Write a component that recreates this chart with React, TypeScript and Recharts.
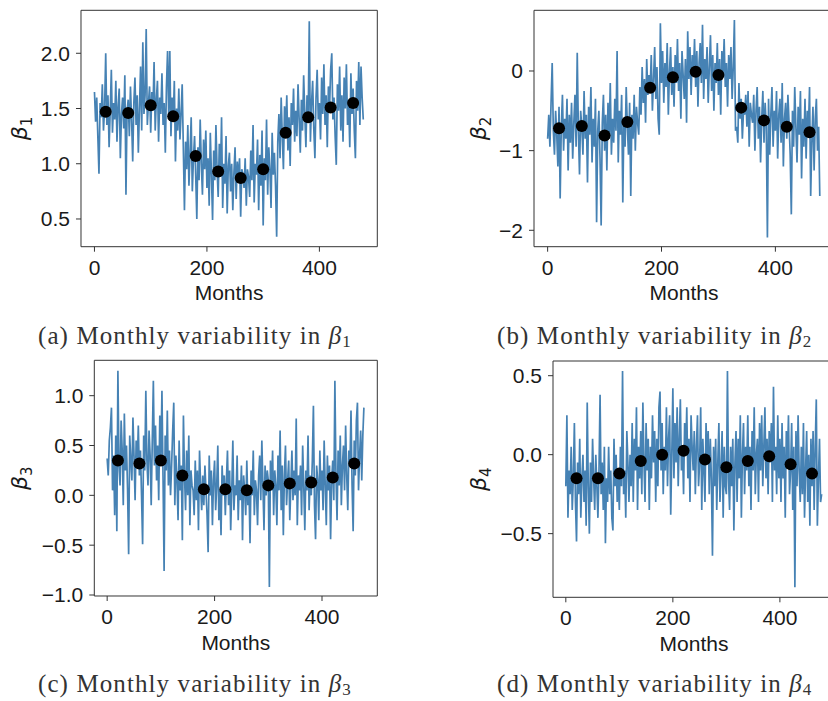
import React from "react"
import { ComposedChart, Line, Scatter, XAxis, YAxis, ReferenceArea } from "recharts"

// one reading every 2 months, months 0..478
const STEP = 2

const beta1 = [
  1.65, 1.38, 1.6, 1.25, 0.91, 1.55, 1.42, 1.72, 1.3, 1.5,
  2.0, 1.35, 1.62, 1.15, 1.48, 1.85, 1.28, 1.55, 1.4, 1.75,
  1.2, 1.52, 1.68, 1.05, 1.45, 1.6, 1.32, 1.8, 0.72, 1.48,
  1.58, 1.25, 1.7, 1.4, 1.02, 1.55, 1.78, 1.35, 1.62, 1.1,
  1.5, 1.88, 1.3, 2.1, 1.45, 1.62, 2.22, 1.35, 1.55, 1.7,
  1.28, 1.65, 1.48, 1.92, 1.3, 1.58, 1.75, 1.2, 1.6, 1.45,
  1.82, 1.35, 1.55, 1.1, 1.7, 2.02, 1.42, 2.02, 1.25, 1.6,
  1.38, 1.75, 1.02, 1.5, 1.3, 1.68, 1.22, 1.45, 1.72, 1.15,
  0.58, 1.2, 0.95, 1.35, 0.8, 1.1, 1.42, 0.75, 1.05, 1.25,
  0.9, 0.5, 1.15, 0.85, 1.4, 1.0, 0.72, 1.22, 0.95, 1.3,
  0.78, 1.05, 0.62, 1.28, 0.9, 0.49, 1.12, 0.85, 1.35, 0.95,
  0.7, 1.18, 0.88, 1.42, 0.6, 1.0, 0.82, 1.25, 0.55, 0.98,
  1.1, 0.75, 1.0, 0.58, 0.92, 1.15, 0.68, 1.02, 0.85, 1.05,
  0.52, 0.95, 0.9, 0.78, 1.05, 0.62, 0.95, 0.88, 0.7, 1.12,
  0.85, 1.35, 0.65, 1.0, 0.9, 1.22, 0.58, 1.08, 0.8, 1.3,
  0.44, 1.05, 0.85, 1.4, 0.72, 1.15, 0.95, 0.6, 1.28, 0.9,
  1.1, 0.8, 0.34, 1.2, 1.45, 1.05, 1.6, 1.25, 0.95, 1.52,
  1.3, 1.62, 1.12, 1.42, 0.98, 1.55, 1.35, 1.68, 1.2, 1.48,
  1.25, 1.72, 1.4, 1.1, 1.58, 1.3, 1.8, 1.45, 1.15, 1.62,
  1.38, 2.29, 1.2, 1.55, 1.75, 1.32, 1.05, 1.6, 1.85, 1.4,
  1.55, 1.22, 1.78, 1.45, 1.9, 1.35, 1.62, 1.15, 1.7, 1.5,
  1.85, 2.0, 1.4, 1.6, 1.25, 0.99, 1.72, 1.48, 1.88, 1.3,
  1.62, 1.2, 1.78, 1.5, 1.9, 1.35, 1.58, 1.15, 1.82, 1.45,
  1.68, 1.3, 1.05, 1.75, 1.48, 1.92, 1.35, 1.88, 1.6, 1.4,
]

const beta2 = [
  -0.85, -0.55, -0.95, -0.4, 0.1, -0.75, -1.05, -0.5, -0.8, -1.2,
  -0.45, -1.6, -0.7, -0.3, -1.0, -0.6, -0.85, -0.35, -1.25, -0.55,
  -0.9, -0.4, -1.1, -0.65, -0.3, -0.95, 0.23, -0.75, -1.3, -0.5,
  -0.7, -1.05, -0.25, -0.85, -0.55, -1.4, -0.45, -0.8, -0.2, -1.15,
  -0.6, -0.95, -0.35, -1.9, -0.75, -0.5, -1.1, -1.94, -0.65, -0.3,
  -1.0, -0.55, -1.25, -0.4, -0.85, -0.15, -1.05, -0.6, -0.9, -0.35,
  -0.75, 0.25, -1.15, -0.5, -0.8, -0.3, -1.65, -0.6, -0.95, -0.2,
  -0.7, -1.05, -0.4, -1.57, -0.55, -0.85, -0.3, -1.0, -0.45, -0.65,
  -0.8, -0.2, -0.55, 0.05, -0.4, -0.1, -0.65, 0.15, -0.3, -0.05,
  -0.25, 0.2, -0.5, -0.1, 0.3, -0.35, 0.05, -0.6, -0.8, 0.6,
  -0.15, 0.25, -0.4, 0.1, -0.2, 0.35, -0.55, 0.0, 0.3, -0.3,
  0.05, -0.45, 0.2, -0.15, 0.4, -0.25, 0.1, -0.6, 0.25, -0.05,
  -0.35, 0.15, -0.65, 0.5, -0.1, 0.3, -0.3, 0.2, -0.05, 0.4,
  -0.2, 0.25, -0.45, 0.1, 0.35, -0.15, 0.58, -0.35, 0.15, -0.1,
  0.3, -0.4, 0.05, 0.45, -0.25, 0.2, -0.5, 0.1, -0.15, 0.35,
  -0.3, 0.15, -0.55, 0.25, -0.05, 0.4, -0.2, 0.1, -0.45, 0.2,
  -0.1, 0.3, -0.35, 0.05, 0.64, -0.75, -0.7, -0.9, -0.15, -0.6,
  -0.35, -0.85, -0.5, -0.55, -0.3, -0.7, -0.25, -0.95, -0.4, -0.55,
  -0.65, -0.3, -1.0, -0.5, -0.2, -0.85, -0.45, -1.15, -0.6, -0.25,
  -0.9, -0.4, -0.7, -2.09, -0.35, -1.05, -0.55, -0.2, -0.95, -0.5,
  -0.75, -0.25, -1.1, -0.55, -0.35, -0.9, -0.15, -1.2, -0.6, -0.4,
  -0.85, -0.3, -0.65, -1.05, -1.8, -0.5, -0.95, -0.2, -0.7, -1.15,
  -0.45, -0.8, -0.25, -1.35, -0.6, -0.95, -0.35, -1.1, -0.5, -0.75,
  -0.2, -1.57, -0.9, -0.45, -1.25, -0.6, -0.35, -1.0, -0.7, -1.57,
]

const beta3 = [
  0.37, 0.2, 0.55, 0.68, 0.88, 0.05, 0.4, -0.2, 0.6, -0.36,
  1.25, 0.3, 0.1, 0.75, 0.45, -0.1, 0.82, 0.25, 0.5, 0.05,
  -0.59, 0.6, 0.35, 0.15, 0.78, 0.4, -0.05, 0.55, 0.3, 0.7,
  0.2, 0.45, 0.0, -0.49, 0.6, 0.25, 1.05, 0.35, 0.1, 0.65,
  0.4, -0.1, 0.55, 1.15, 0.3, 0.7, 0.15, 0.5, -0.05, 0.8,
  0.35, 1.05, 0.2, -0.76, 0.6, 0.25, 0.85, 0.1, 0.45, 0.0,
  0.3, 0.65, 0.93, -0.1, 0.4, 0.15, -0.25, 0.55, 0.05, 0.3,
  -0.45, 0.8, 0.2, -0.15, 0.45, 0.0, 0.6, -0.3, 0.25, 0.1,
  0.05, -0.2, 0.35, -0.05, 0.25, -0.35, 0.45, 0.1, -0.15, 0.2,
  -0.1, 0.3, 0.05, -0.2, -0.57, 0.4, 0.0, 0.25, -0.3, 0.15,
  0.35, -0.15, 0.1, 0.5, -0.25, 0.05, -0.4, 0.3, 0.0, 0.2,
  -0.2, 0.15, 0.45, -0.1, 0.25, -0.35, 0.05, 0.55, -0.15, 0.1,
  0.0, 0.4, -0.25, 0.15, -0.05, 0.3, -0.45, 0.2, 0.05, -0.2,
  0.35, -0.1, 0.1, -0.48, 0.25, 0.0, 0.45, -0.2, 0.15, 0.05,
  -0.3, 0.2, 0.4, -0.05, 0.55, 0.1, -0.35, 0.3, 0.0, 0.25,
  0.15, -0.92, 0.35, 0.05, 0.45, -0.2, 0.25, 0.1, -0.3, 0.4,
  0.05, 0.65, -0.15, 0.3, -0.4, 0.2, 0.5, -0.1, 0.15, 0.35,
  -0.25, 0.1, 0.45, -0.05, 0.25, 0.0, 0.77, -0.3, 0.2, 0.05,
  0.3, -0.2, 0.5, 0.1, -0.35, 0.25, 0.05, 0.6, -0.15, 0.2,
  0.0, 0.35, 0.9, -0.1, -0.44, 0.3, 0.15, -0.25, 0.45, 0.05,
  0.25, -0.15, 0.55, 0.1, -0.3, 0.4, 0.05, 0.3, -0.44, 0.15,
  0.35, -0.05, 1.15, 0.2, -0.25, 0.45, 0.1, 0.6, -0.1, 0.3,
  0.5, 0.05, 0.7, 0.2, -0.15, 0.45, 0.3, 0.85, 0.1, -0.36,
  0.55, 0.2, 0.75, 0.93, 0.05, 0.4, 0.65, 0.15, 0.6, 0.88,
]

const beta4 = [
  -0.2, 0.25, -0.4, -0.1, -0.25, 0.05, -0.35, -0.15, 0.2, -0.3,
  -0.55, -0.05, -0.25, 0.1, -0.4, -0.15, 0.0, -0.3, -0.1, -0.45,
  0.33, -0.2, -0.5, -0.05, -0.3, 0.1, -0.15, -0.35, 0.0, -0.2,
  -0.4, -0.1, 0.38, -0.25, -0.05, -0.35, 0.05, -0.56, -0.15, -0.3,
  0.05, -0.25, -0.1, -0.4, -0.48, 0.1, -0.2, 0.0, -0.3, -0.15,
  -0.35, 0.05, -0.2, 0.53, -0.25, -0.1, -0.4, 0.15, -0.05, -0.3,
  0.0, -0.2, 0.2, -0.3, 0.1, -0.1, 0.3, -0.35, 0.05, -0.15,
  0.15, -0.25, 0.33, -0.05, -0.3, 0.2, -0.1, 0.1, -0.35, 0.05,
  -0.15, 0.25, -0.05, 0.15, -0.3, 0.1, -0.2, 0.3, 0.4, -0.1,
  0.2, -0.25, 0.05, -0.1, 0.3, -0.2, 0.1, 0.25, -0.38, 0.0,
  0.42, -0.15, 0.2, -0.05, 0.3, -0.2, 0.1, 0.35, -0.1, 0.05,
  -0.25, 0.2, 0.0, 0.3, -0.15, 0.1, -0.3, 0.25, 0.05, -0.1,
  0.15, -0.25, 0.05, 0.25, -0.2, -0.05, 0.3, -0.35, 0.1, -0.1,
  -0.3, 0.2, -0.05, 0.15, -0.25, 0.1, -0.15, -0.64, 0.05, -0.2,
  0.1, -0.35, -0.05, 0.2, -0.3, -0.1, 0.15, -0.4, 0.05, -0.2,
  -0.25, 0.53, -0.15, -0.35, 0.05, -0.2, 0.1, -0.48, -0.05, 0.15,
  -0.3, 0.1, -0.15, 0.25, -0.4, 0.0, 0.2, -0.25, 0.05, -0.1,
  0.25, -0.2, 0.05, -0.35, 0.15, -0.1, 0.3, -0.25, 0.0, 0.1,
  -0.3, 0.2, -0.1, 0.25, -0.2, 0.05, 0.3, -0.15, 0.1, -0.25,
  0.15, -0.05, 0.2, -0.3, 0.43, -0.1, 0.05, -0.25, 0.25, -0.15,
  0.1, -0.3, 0.2, -0.15, 0.05, -0.4, 0.15, -0.05, 0.25, -0.25,
  -0.1, 0.2, -0.35, 0.05, -0.84, 0.15, -0.2, 0.25, -0.1, -0.3,
  0.05, -0.25, 0.2, -0.4, -0.1, 0.15, -0.3, 0.0, -0.45, 0.1,
  -0.2, 0.15, -0.35, 0.05, 0.35, -0.45, -0.15, 0.1, -0.3, -0.25,
]

// 40-month means (black dots)
const meanMonths = [20, 60, 100, 140, 180, 220, 260, 300, 340, 380, 420, 460]
const beta1Means = [1.47, 1.46, 1.53, 1.43, 1.07, 0.93, 0.87, 0.95, 1.28, 1.42, 1.51, 1.55]
const beta2Means = [-0.72, -0.69, -0.81, -0.64, -0.21, -0.08, -0.01, -0.05, -0.46, -0.62, -0.7, -0.77]
const beta3Means = [0.35, 0.32, 0.35, 0.2, 0.06, 0.06, 0.05, 0.1, 0.12, 0.13, 0.18, 0.32]
const beta4Means = [-0.15, -0.15, -0.12, -0.04, 0.0, 0.025, -0.03, -0.08, -0.04, -0.01, -0.06, -0.12]

const xTicks = [0, 200, 400]
const beta1Ticks = [0.5, 1.0, 1.5, 2.0]
const beta2Ticks = [-2, -1, 0]
const beta3Ticks = [-1.0, -0.5, 0.0, 0.5, 1.0]
const beta4Ticks = [-0.5, 0.0, 0.5]

const captions = [
  "(a) Monthly variability in ",
  "(b) Monthly variability in ",
  "(c) Monthly variability in ",
  "(d) Monthly variability in ",
]

const X_DOMAIN: [number, number] = [-23.95, 502.95]
const TICK_FONT = "'Liberation Sans', Arial, sans-serif"
const TEXT = "#1a1a1a"

const fmt = (decimals: number) => (v: number) =>
  (v < 0 ? "\u2212" : "") + Math.abs(v).toFixed(decimals)

interface PanelProps {
  left: number
  top: number
  frame: { l: number; t: number; r: number; b: number }
  monthsBaseline: number
  betaX: number
  index: number
  series: number[]
  means: number[]
  yDomain: [number, number]
  yTicks: number[]
  decimals: number
}

const Panel: React.FC<PanelProps> = (p) => {
  const rows = p.series.map((v, i) => ({ m: i * STEP, v }))
  const meanRows = meanMonths.map((m, i) => ({ m, v: p.means[i] }))
  const width = p.frame.r + 12 - p.left
  const height = p.monthsBaseline + 6 - p.top
  const yAxisW = p.frame.l - p.left
  const xAxisH = p.monthsBaseline - p.frame.b

  return (
    <div style={{ position: "absolute", left: p.left, top: p.top }}>
      <ComposedChart
        width={width}
        height={height}
        margin={{ top: p.frame.t - p.top, right: 12, bottom: 6, left: 0 }}
      >
        <XAxis
          type="number"
          dataKey="m"
          domain={X_DOMAIN}
          allowDataOverflow
          ticks={xTicks}
          interval={0}
          height={xAxisH}
          axisLine={false}
          tickSize={5}
          tickMargin={8}
          tickLine={{ stroke: "#333" }}
          tick={{ fill: TEXT, fontSize: 21, fontFamily: TICK_FONT }}
          label={{
            value: "Months",
            position: "insideBottom",
            offset: 0,
            fill: TEXT,
            fontSize: 21,
            fontFamily: TICK_FONT,
          }}
        />
        <YAxis
          type="number"
          domain={p.yDomain}
          allowDataOverflow
          ticks={p.yTicks}
          interval={0}
          width={yAxisW}
          axisLine={false}
          tickSize={5}
          tickMargin={6}
          tickLine={{ stroke: "#333" }}
          tickFormatter={fmt(p.decimals)}
          tick={{ fill: TEXT, fontSize: 21, fontFamily: TICK_FONT }}
          label={(lp: any) => {
            const vb = lp.viewBox
            const cx = p.betaX - p.left
            const cy = vb.y + vb.height / 2
            return (
              <text
                x={cx}
                y={cy}
                transform={`rotate(-90 ${cx} ${cy})`}
                textAnchor="middle"
                fill={TEXT}
                fontFamily="'DejaVu Sans', sans-serif"
                fontSize={22}
              >
                <tspan fontStyle="italic">β</tspan>
                <tspan fontSize={15} dy={5}>
                  {p.index}
                </tspan>
              </text>
            )
          }}
        />
        <Line
          data={rows}
          dataKey="v"
          type="linear"
          stroke="#4682b4"
          strokeWidth={1.7}
          dot={false}
          activeDot={false}
          isAnimationActive={false}
        />
        <Scatter
          data={meanRows}
          dataKey="v"
          fill="#000"
          isAnimationActive={false}
          shape={(s: any) => <circle cx={s.cx} cy={s.cy} r={6} fill="#000" />}
        />
        <ReferenceArea
          x1={X_DOMAIN[0]}
          x2={X_DOMAIN[1]}
          y1={p.yDomain[0]}
          y2={p.yDomain[1]}
          fill="none"
          fillOpacity={0}
          stroke="#333"
          strokeWidth={1}
          ifOverflow="visible"
        />
      </ComposedChart>
    </div>
  )
}

const Caption: React.FC<{ x: number; y: number; text: string; index: number }> = ({
  x,
  y,
  text,
  index,
}) => (
  <text
    x={x}
    y={y}
    fill="#333"
    fontFamily="'Liberation Serif', 'Times New Roman', serif"
    fontSize={25}
    letterSpacing={1.1}
  >
    {text}
    <tspan fontStyle="italic">β</tspan>
    <tspan fontSize={17} dy={3}>
      {index}
    </tspan>
  </text>
)

export default function App() {
  return (
    <div
      style={{
        position: "fixed",
        left: 0,
        top: 0,
        width: 828,
        height: 701,
        overflow: "hidden",
        background: "#fff",
      }}
    >
      <Panel
        left={0}
        top={0}
        frame={{ l: 81, t: 10.3, r: 377.3, b: 246.7 }}
        monthsBaseline={300}
        betaX={27}
        index={1}
        series={beta1}
        means={beta1Means}
        yDomain={[0.249, 2.389]}
        yTicks={beta1Ticks}
        decimals={1}
      />
      <Panel
        left={414}
        top={0}
        frame={{ l: 534, t: 10.3, r: 834, b: 246.7 }}
        monthsBaseline={300}
        betaX={486}
        index={2}
        series={beta2}
        means={beta2Means}
        yDomain={[-2.206, 0.762]}
        yTicks={beta2Ticks}
        decimals={0}
      />
      <Panel
        left={0}
        top={350}
        frame={{ l: 94.3, t: 360.3, r: 377.3, b: 596 }}
        monthsBaseline={650}
        betaX={27}
        index={3}
        series={beta3}
        means={beta3Means}
        yDomain={[-1.01, 1.355]}
        yTicks={beta3Ticks}
        decimals={1}
      />
      <Panel
        left={414}
        top={350}
        frame={{ l: 553, t: 361, r: 835, b: 597.3 }}
        monthsBaseline={651}
        betaX={486}
        index={4}
        series={beta4}
        means={beta4Means}
        yDomain={[-0.903, 0.593]}
        yTicks={beta4Ticks}
        decimals={1}
      />
      <svg
        width={828}
        height={701}
        style={{ position: "absolute", left: 0, top: 0, pointerEvents: "none" }}
      >
        <Caption x={38} y={344} text={captions[0]} index={1} />
        <Caption x={497} y={344} text={captions[1]} index={2} />
        <Caption x={38} y={692} text={captions[2]} index={3} />
        <Caption x={497} y={692} text={captions[3]} index={4} />
      </svg>
    </div>
  )
}
